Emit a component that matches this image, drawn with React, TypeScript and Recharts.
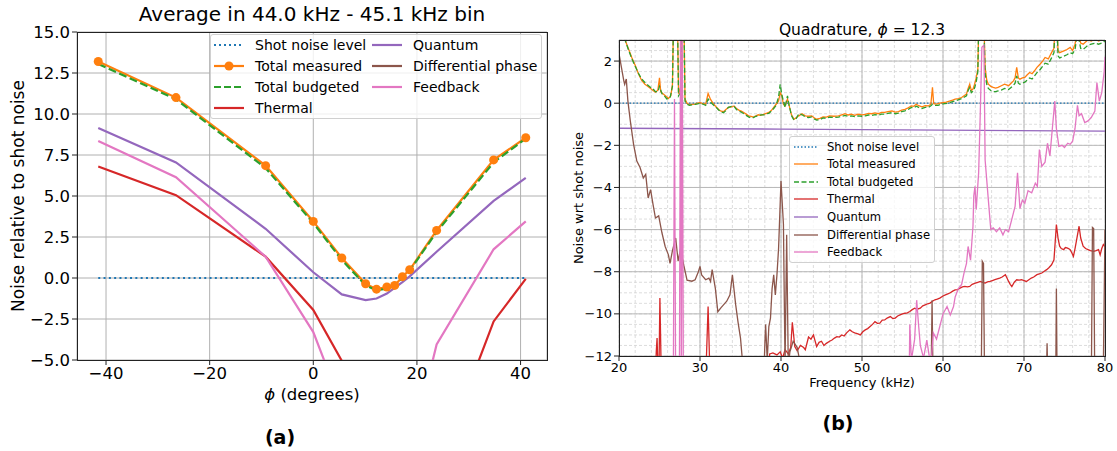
import { CartesianGrid, Line, LineChart, XAxis, YAxis } from "recharts";

const FONT = "'DejaVu Sans', Verdana, sans-serif";
const C = {
  blue: "#1f77b4",
  orange: "#ff7f0e",
  green: "#2ca02c",
  red: "#d62728",
  purple: "#9467bd",
  brown: "#8c564b",
  pink: "#e377c2",
};

// (a) noise averaged over the 44.0-45.1 kHz bin, one point per quadrature angle
const phiDeg = [-41.5, -26.5, -9.2, 0, 5.5, 10.1, 12.2, 14.2, 15.7, 17.2, 18.6, 23.8, 34.8, 41.0];
const binShot = [0, 0, 0, 0, 0, 0, 0, 0, 0, 0, 0, 0, 0, 0];
const binMeasured = [13.2, 11.0, 6.85, 3.45, 1.22, -0.35, -0.68, -0.55, -0.45, 0.08, 0.5, 2.9, 7.2, 8.55];
const binBudgeted = [13.05, 10.9, 6.7, 3.35, 1.1, -0.45, -0.75, -0.65, -0.5, 0.0, 0.45, 2.8, 7.05, 8.5];
const binThermal = [6.8, 5.05, 1.3, -1.95, -5.05, -9.0, -10.0, -10.5, -11.0, -11.5, -12.0, -11.8, -2.65, -0.05];
const binQuantum = [9.15, 7.05, 3.0, 0.35, -1.0, -1.35, -1.25, -0.95, -0.6, -0.25, 0.1, 1.6, 4.7, 6.1];
const binDiffPhase = [-14.5, -15.2, -16.8, -18.0, -18.9, -19.5, -19.6, -19.4, -19.2, -18.8, -18.5, -17.2, -15.6, -14.9];
const binFeedback = [8.35, 6.15, 1.3, -3.3, -7.8, -12.0, -13.0, -13.0, -12.5, -11.5, -10.8, -4.05, 1.75, 3.45];

const phiTicks = [-40, -20, 0, 20, 40];
const binTicks = [-5, -2.5, 0, 2.5, 5, 7.5, 10, 12.5, 15];

// (b) spectra at phi = 12.3, [frequency kHz, dB wrt shot noise]
type Pt = [number, number];
const qShot: Pt[] = [[20, 0], [80, 0]];
const qMeasured: Pt[] = [
  [20.0, 4.5], [20.5, 3.25], [20.8, 2.95], [21.2, 2.55], [21.6, 2.15], [22.0, 1.8], [22.4, 1.4], [22.8, 1.08],
  [23.2, 0.9], [23.5, 0.82], [23.9, 0.7], [24.2, 0.6], [24.5, 0.52], [24.8, 0.62], [25.0, 1.2], [25.15, 0.55],
  [25.5, 0.43], [25.8, 0.33], [26.1, 0.22], [26.4, 0.35], [26.6, 0.9], [26.75, 4.5], [27.2, 4.5], [27.35, 0.45],
  [27.6, 0.75], [27.75, 4.5], [28.0, 4.5], [28.15, 0.2], [28.4, 0.0], [28.7, -0.08], [29.0, -0.06], [29.4, -0.04],
  [29.7, 0.0], [30.0, 0.03], [30.4, -0.02], [30.7, -0.05], [31.0, 0.46], [31.3, 0.18], [31.7, -0.05], [32.0, -0.18],
  [32.3, -0.3], [32.6, -0.38], [32.9, -0.4], [33.2, -0.3], [33.5, -0.2], [33.9, -0.18], [34.2, -0.13], [34.5, -0.25],
  [34.8, -0.33], [35.1, -0.38], [35.4, -0.44], [35.7, -0.52], [36.0, -0.6], [36.3, -0.63], [36.6, -0.66], [36.9, -0.6],
  [37.2, -0.55], [37.5, -0.58], [37.9, -0.52], [38.2, -0.48], [38.5, -0.44], [38.8, -0.35], [39.1, -0.2], [39.4, -0.05],
  [39.7, 0.1], [39.9, 0.5], [40.1, 0.35], [40.3, -0.05], [40.5, -0.13], [40.8, 0.2], [41.0, -0.1], [41.3, -0.55],
  [41.6, -0.76], [41.9, -0.68], [42.2, -0.6], [42.6, -0.5], [43.0, -0.6], [43.4, -0.62], [43.8, -0.6], [44.1, -0.7],
  [44.4, -0.76], [44.8, -0.72], [45.2, -0.65], [45.6, -0.66], [46.0, -0.6], [46.5, -0.62], [47.1, -0.6], [47.5, -0.55],
  [47.9, -0.5], [48.3, -0.56], [48.7, -0.52], [49.1, -0.58], [49.5, -0.52], [50.0, -0.55], [50.4, -0.53], [50.8, -0.48],
  [51.2, -0.5], [51.6, -0.46], [52.0, -0.5], [52.4, -0.44], [52.8, -0.44], [53.2, -0.4], [53.7, -0.37], [54.1, -0.42],
  [54.5, -0.4], [54.9, -0.33], [55.3, -0.29], [55.7, -0.22], [56.1, -0.13], [56.4, -0.15], [56.7, -0.05], [57.0, -0.12],
  [57.4, -0.17], [57.8, -0.12], [58.2, -0.13], [58.5, -0.05], [58.7, 0.75], [58.85, -0.02], [59.2, -0.04], [59.6, 0.0],
  [60.0, 0.03], [60.4, 0.05], [60.8, 0.1], [61.2, 0.15], [61.5, 0.19], [61.9, 0.22], [62.3, 0.27], [62.6, 0.35],
  [62.9, 0.43], [63.1, 0.7], [63.3, 0.9], [63.5, 0.6], [63.7, 0.67], [63.9, 0.9], [64.1, 1.2], [64.3, 1.6],
  [64.45, 4.5], [65.0, 4.5], [65.2, 1.7], [65.4, 1.1], [65.6, 0.9], [65.9, 0.8], [66.2, 0.75], [66.5, 0.72],
  [66.8, 0.75], [67.2, 0.83], [67.6, 0.9], [68.1, 0.83], [68.4, 0.95], [68.7, 1.06], [68.9, 1.2], [69.1, 1.7],
  [69.3, 1.2], [69.5, 1.14], [69.8, 1.2], [70.1, 1.22], [70.4, 1.35], [70.7, 1.46], [71.0, 1.4], [71.3, 1.54],
  [71.6, 1.7], [72.0, 1.86], [72.3, 2.0], [72.6, 2.17], [73.0, 2.1], [73.4, 2.4], [73.7, 2.6], [73.85, 4.0],
  [74.05, 4.0], [74.2, 2.5], [74.4, 2.4], [74.7, 2.45], [75.0, 2.5], [75.3, 2.55], [75.7, 2.65], [76.0, 2.5],
  [76.3, 2.8], [76.55, 3.4], [76.8, 3.2], [77.0, 2.85], [77.3, 2.8], [77.6, 2.9], [77.9, 3.0], [78.3, 2.95],
  [78.8, 3.05], [79.2, 2.95], [79.6, 3.0], [80.0, 3.05],
];
const qBudgeted: Pt[] = [
  [20.0, 4.5], [20.5, 3.3], [20.8, 2.95], [21.2, 2.5], [21.6, 2.1], [22.0, 1.75], [22.4, 1.42], [22.8, 1.15],
  [23.2, 0.98], [23.5, 0.88], [23.9, 0.75], [24.2, 0.68], [24.5, 0.55], [24.8, 0.55], [25.0, 0.8], [25.3, 0.45],
  [25.6, 0.35], [25.9, 0.2], [26.3, 0.25], [26.6, 0.8], [26.75, 4.5], [27.2, 4.5], [27.35, 0.35], [27.6, 0.5],
  [27.75, 4.5], [28.0, 4.5], [28.15, 0.1], [28.4, -0.05], [28.7, -0.1], [29.0, -0.08], [29.4, -0.05], [29.7, -0.03],
  [30.0, 0.0], [30.4, -0.05], [30.7, -0.1], [31.0, 0.2], [31.3, 0.05], [31.7, -0.1], [32.0, -0.2], [32.3, -0.32],
  [32.6, -0.42], [32.9, -0.45], [33.2, -0.35], [33.5, -0.2], [33.9, -0.15], [34.2, -0.15], [34.5, -0.3], [34.8, -0.38],
  [35.1, -0.42], [35.4, -0.5], [35.7, -0.58], [36.0, -0.65], [36.3, -0.7], [36.6, -0.68], [36.9, -0.62], [37.2, -0.6],
  [37.5, -0.55], [37.9, -0.55], [38.2, -0.5], [38.5, -0.48], [38.8, -0.38], [39.1, -0.25], [39.4, -0.1], [39.7, 0.3],
  [39.9, 0.9], [40.1, 0.4], [40.3, 0.1], [40.5, -0.2], [40.8, 0.35], [41.0, -0.1], [41.3, -0.6], [41.6, -0.8],
  [41.9, -0.72], [42.2, -0.5], [42.6, -0.55], [43.0, -0.65], [43.4, -0.68], [43.8, -0.65], [44.1, -0.75], [44.4, -0.8],
  [44.8, -0.78], [45.2, -0.7], [45.6, -0.72], [46.0, -0.66], [46.5, -0.68], [47.1, -0.66], [47.5, -0.62], [47.9, -0.58],
  [48.3, -0.62], [48.7, -0.6], [49.1, -0.64], [49.5, -0.6], [50.0, -0.62], [50.4, -0.6], [50.8, -0.56], [51.2, -0.58],
  [51.6, -0.54], [52.0, -0.57], [52.4, -0.52], [52.8, -0.52], [53.2, -0.48], [53.7, -0.45], [54.1, -0.5], [54.5, -0.47],
  [54.9, -0.4], [55.3, -0.36], [55.7, -0.3], [56.1, -0.2], [56.4, -0.22], [56.7, -0.14], [57.0, -0.2], [57.4, -0.25],
  [57.8, -0.2], [58.2, -0.2], [58.5, -0.12], [58.7, -0.05], [59.0, -0.1], [59.4, -0.1], [59.8, -0.05], [60.2, -0.02],
  [60.6, 0.0], [61.0, 0.05], [61.4, 0.1], [61.8, 0.15], [62.2, 0.2], [62.6, 0.28], [62.9, 0.35], [63.1, 0.6],
  [63.3, 0.75], [63.5, 0.5], [63.8, 0.6], [64.1, 1.0], [64.3, 1.5], [64.45, 4.5], [65.0, 4.5], [65.2, 1.4],
  [65.4, 0.9], [65.6, 0.7], [65.9, 0.6], [66.2, 0.55], [66.5, 0.55], [66.8, 0.58], [67.2, 0.62], [67.6, 0.7],
  [68.1, 0.65], [68.4, 0.75], [68.7, 0.85], [68.9, 0.95], [69.1, 1.3], [69.3, 0.95], [69.5, 0.9], [69.8, 0.95],
  [70.1, 1.0], [70.4, 1.1], [70.7, 1.2], [71.0, 1.15], [71.3, 1.3], [71.6, 1.45], [72.0, 1.6], [72.3, 1.75],
  [72.6, 1.9], [73.0, 1.85], [73.4, 2.15], [73.7, 2.4], [73.85, 4.0], [74.05, 4.0], [74.2, 2.25], [74.4, 2.15],
  [74.7, 2.2], [75.0, 2.25], [75.3, 2.3], [75.7, 2.4], [76.0, 2.35], [76.3, 2.55], [76.55, 3.2], [76.8, 3.0],
  [77.0, 2.6], [77.3, 2.55], [77.6, 2.65], [77.9, 2.75], [78.3, 2.8], [78.8, 2.85], [79.2, 2.8], [79.6, 2.85],
  [80.0, 2.95],
];
const qThermal: Pt[] = [
  [24.4, -14], [24.6, -11.8], [24.7, -11.15], [24.8, -12.5], [24.95, -12.3], [25.05, -9.25], [25.2, -12.5], [25.4, -14],
  [30.6, -14], [30.8, -12], [31.0, -9.65], [31.2, -12.5], [31.4, -14], [38.3, -14], [38.6, -11.9], [39.0, -11.85],
  [39.5, -11.95], [39.9, -11.8], [40.2, -12.1], [40.5, -11.7], [40.9, -11.9], [41.2, -11.6], [41.4, -10.4], [41.7, -11.55],
  [42.0, -11.75], [42.4, -11.5], [42.8, -11.6], [43.0, -11.7], [43.4, -11.1], [43.7, -11.2], [44.0, -11.0], [44.4, -11.55],
  [44.7, -11.35], [45.0, -11.3], [45.3, -11.5], [45.6, -11.4], [46.0, -11.3], [46.3, -11.24], [46.6, -11.15], [46.9, -11.08],
  [47.2, -11.1], [47.5, -11.0], [47.8, -11.05], [48.1, -10.9], [48.5, -10.76], [48.8, -10.85], [49.1, -10.9], [49.5, -10.95],
  [49.8, -11.0], [50.1, -10.85], [50.4, -10.76], [50.7, -10.7], [51.0, -10.6], [51.3, -10.5], [51.6, -10.37], [51.9, -10.45],
  [52.2, -10.44], [52.5, -10.3], [52.8, -10.29], [53.1, -10.2], [53.5, -10.13], [53.8, -10.22], [54.1, -10.2], [54.4, -10.1],
  [54.7, -10.05], [55.0, -10.0], [55.3, -9.97], [55.6, -9.95], [55.9, -9.89], [56.2, -9.8], [56.5, -9.73], [56.8, -9.78],
  [57.2, -9.73], [57.5, -9.62], [57.8, -9.57], [58.1, -9.52], [58.4, -9.49], [58.7, -9.4], [59.0, -9.33], [59.3, -9.3],
  [59.6, -9.25], [60.0, -9.15], [60.3, -9.1], [60.6, -9.05], [60.9, -9.0], [61.2, -8.92], [61.5, -8.86], [61.8, -8.85],
  [62.1, -8.78], [62.4, -8.72], [62.7, -8.7], [63.0, -8.72], [63.3, -8.7], [63.6, -8.6], [64.0, -8.54], [64.3, -8.5],
  [64.6, -8.46], [64.9, -8.5], [65.2, -8.54], [65.5, -8.48], [65.8, -8.46], [66.1, -8.42], [66.4, -8.38], [66.7, -8.34],
  [67.0, -8.3], [67.3, -8.25], [67.7, -8.14], [67.9, -8.3], [68.1, -8.46], [68.3, -8.6], [68.5, -8.7], [68.8, -8.5],
  [69.1, -8.38], [69.4, -8.4], [69.7, -8.38], [70.0, -8.42], [70.3, -8.46], [70.6, -8.38], [70.9, -8.3], [71.2, -8.25],
  [71.6, -8.14], [71.9, -8.1], [72.2, -8.06], [72.5, -7.98], [72.8, -7.9], [73.1, -7.8], [73.4, -7.67], [73.7, -7.43],
  [73.85, -6.6], [74.0, -5.76], [74.2, -6.4], [74.4, -6.79], [74.6, -6.9], [74.9, -6.95], [75.1, -6.85], [75.3, -6.87],
  [75.5, -6.9], [75.7, -6.95], [75.9, -7.1], [76.1, -7.27], [76.3, -6.9], [76.5, -6.48], [76.8, -5.84], [77.0, -6.4],
  [77.3, -6.79], [77.6, -6.9], [77.9, -6.95], [78.2, -7.0], [78.6, -7.03], [78.9, -7.0], [79.2, -6.95], [79.4, -7.2],
  [79.6, -6.9], [79.8, -6.71], [80.0, -6.8],
];
const qQuantum: Pt[] = [[20, -1.19], [40, -1.23], [60, -1.28], [80, -1.33]];
const qDiffPhase: Pt[] = [
  [20.0, 2.35], [20.3, 1.7], [20.6, 1.05], [20.7, 0.9], [20.9, 1.15], [21.1, 0.1], [21.4, -0.85], [21.8, -1.95],
  [22.2, -2.75], [22.6, -3.05], [23.0, -3.55], [23.3, -3.38], [23.6, -4.5], [23.9, -4.1], [24.2, -4.8], [24.5, -5.45],
  [24.9, -5.35], [25.3, -6.15], [25.7, -6.8], [26.1, -7.2], [26.3, -7.6], [26.6, -7.0], [27.0, -6.4], [27.3, -7.5],
  [27.6, -6.9], [28.0, -7.7], [28.4, -8.4], [29.0, -8.45], [29.4, -8.38], [29.8, -8.0], [30.0, -7.75], [30.2, -8.15],
  [30.7, -8.38], [31.1, -8.3], [31.3, -8.46], [31.5, -7.9], [31.9, -8.8], [32.2, -9.9], [32.6, -9.7], [32.9, -9.57],
  [33.3, -9.4], [33.7, -9.1], [34.0, -8.15], [34.4, -9.55], [34.7, -10.4], [35.0, -11.15], [35.3, -12.5], [35.6, -14],
  [37.8, -14], [38.0, -11.5], [38.1, -10.5], [38.3, -12.2], [38.5, -10.6], [38.7, -10.2], [38.9, -8.8], [39.1, -8.15],
  [39.3, -9.1], [39.5, -8.15], [39.7, -6.9], [40.0, -3.7], [40.3, -5.75], [40.5, -12.5], [40.7, -6.25], [40.9, -12.5],
  [41.1, -11.8], [41.5, -11.3], [42.0, -11.6], [42.4, -12.4], [42.7, -14], [58.5, -14], [58.65, -9.35], [58.8, -14],
  [64.7, -14], [64.85, -7.5], [65.0, -7.6], [65.15, -14], [72.7, -14], [72.85, -11.4], [73.0, -14], [73.9, -14],
  [74.0, -8.8], [74.1, -14], [78.3, -14], [78.45, -5.9], [78.6, -5.95], [78.75, -14], [79.75, -14], [80.0, -6.0],
];
const qFeedback: Pt[] = [
  [26.7, -14], [26.85, 0.2], [27.0, -14], [27.45, -14], [27.6, 4.5], [27.7, -14], [27.8, 4.5], [27.95, -14],
  [55.8, -14], [55.9, -10.5], [56.1, -12.2], [56.5, -11.2], [56.75, -9.35], [57.0, -10.6], [57.2, -11.5], [57.6, -12.1],
  [58.0, -11.25], [58.5, -12.5], [58.8, -10.9], [59.2, -11.2], [59.6, -10.6], [60.0, -10.0], [60.5, -9.65], [60.9, -10.05],
  [61.3, -9.65], [61.5, -9.2], [61.9, -8.8], [62.3, -8.6], [62.6, -8.05], [62.9, -7.6], [63.1, -6.8], [63.4, -7.45],
  [63.7, -5.85], [63.8, -4.4], [63.95, -3.95], [64.1, -5.05], [64.4, -3.3], [64.6, -0.5], [64.8, 2.65], [65.05, 2.75],
  [65.2, -2.7], [65.6, -4.6], [65.9, -6.0], [66.2, -5.92], [66.6, -6.1], [67.0, -5.92], [67.4, -6.25], [67.7, -6.0],
  [68.1, -6.1], [68.5, -5.5], [68.9, -4.9], [69.2, -3.3], [69.5, -5.0], [69.8, -4.6], [70.1, -4.75], [70.5, -4.15],
  [70.95, -4.25], [71.4, -3.8], [71.65, -3.95], [71.9, -2.2], [72.2, -3.0], [72.6, -2.8], [72.9, -1.9], [73.2, -2.5],
  [73.5, -1.2], [73.8, 0.1], [74.0, -1.2], [74.3, -2.05], [74.7, -2.0], [75.0, -2.1], [75.4, -1.9], [75.7, -1.95],
  [76.0, -1.8], [76.3, -1.2], [76.6, -0.1], [76.8, -0.6], [77.1, -0.5], [77.5, -0.92], [77.9, -0.84], [78.3, -0.68],
  [78.75, -0.37], [79.0, 0.98], [79.3, 0.1], [79.6, 0.5], [79.9, 1.5], [80.0, 2.2],
];

const freqTicks = [20, 30, 40, 50, 60, 70, 80];
const freqMinor = [20, 22, 24, 26, 28, 30, 32, 34, 36, 38, 40, 42, 44, 46, 48, 50, 52, 54, 56, 58, 60, 62, 64, 66, 68, 70, 72, 74, 76, 78, 80];
const levelTicks = [-12, -10, -8, -6, -4, -2, 0, 2];
const levelMinor = [-12, -11.5, -11, -10.5, -10, -9.5, -9, -8.5, -8, -7.5, -7, -6.5, -6, -5.5, -5, -4.5, -4, -3.5, -3, -2.5, -2, -1.5, -1, -0.5, 0, 0.5, 1, 1.5, 2, 2.5, 3];
const freqDomain: [number, number] = [20, 80];
const levelDomain: [number, number] = [-12, 3];

const binRows = phiDeg.map((p, i) => ({
  phi: p,
  shot: binShot[i],
  measured: binMeasured[i],
  budgeted: binBudgeted[i],
  thermal: binThermal[i],
  quantum: binQuantum[i],
  diff: binDiffPhase[i],
  feedback: binFeedback[i],
}));
const pts = (a: Pt[]) => a.map(([f, v]) => ({ f, v }));

const minus = (s: string) => s.replace("-", "\u2212");
const fmt1 = (v: number) => minus(v.toFixed(1));
const fmt0 = (v: number) => minus(String(v));

type Entry = { name: string; color: string; dash?: string; marker?: boolean };
const legendA: Entry[] = [
  { name: "Shot noise level", color: C.blue, dash: "2 3" },
  { name: "Total measured", color: C.orange, marker: true },
  { name: "Total budgeted", color: C.green, dash: "7 3" },
  { name: "Thermal", color: C.red },
  { name: "Quantum", color: C.purple },
  { name: "Differential phase", color: C.brown },
  { name: "Feedback", color: C.pink },
];
const legendB: Entry[] = [
  { name: "Shot noise level", color: C.blue, dash: "1.5 2" },
  { name: "Total measured", color: C.orange },
  { name: "Total budgeted", color: C.green, dash: "5 2.5" },
  { name: "Thermal", color: C.red },
  { name: "Quantum", color: C.purple },
  { name: "Differential phase", color: C.brown },
  { name: "Feedback", color: C.pink },
];

function Sample({ e, w, sw }: { e: Entry; w: number; sw: number }) {
  return (
    <svg width={w} height={12} style={{ flex: "none" }}>
      <line x1={0} y1={6} x2={w} y2={6} stroke={e.color} strokeWidth={sw} strokeDasharray={e.dash} />
      {e.marker && <circle cx={w / 2} cy={6} r={4.5} fill={e.color} />}
    </svg>
  );
}

function Txt(props: { x: number; y: number; size: number; bold?: boolean; rotate?: boolean; children: any }) {
  const { x, y, size, bold, rotate, children } = props;
  return (
    <div
      style={{
        position: "absolute",
        left: x,
        top: y,
        transform: `translate(-50%, -50%)${rotate ? " rotate(-90deg)" : ""}`,
        fontSize: size,
        fontWeight: bold ? "bold" : "normal",
        whiteSpace: "nowrap",
        lineHeight: 1,
        color: "#000",
      }}
    >
      {children}
    </div>
  );
}

const Phi = () => <span style={{ fontStyle: "italic" }}>ϕ</span>;

const frame = (l: number, t: number, w: number, h: number) => (
  <div
    style={{
      position: "absolute",
      left: l,
      top: t,
      width: w,
      height: h,
      border: "1px solid #222",
      boxSizing: "border-box",
      pointerEvents: "none",
    }}
  />
);

// minor grid: use the axis scale when it is exposed, else map through the plot box
function applyScale(axis: any, v: number): number {
  const s = axis?.scale;
  if (typeof s === "function") return s(v);
  if (s && typeof s.map === "function") return s.map(v);
  return NaN;
}
const minorVertical = ({ xAxis, offset }: any) =>
  freqMinor.map((f) => {
    const p = applyScale(xAxis, f);
    return Number.isFinite(p)
      ? p
      : offset.left + ((f - freqDomain[0]) / (freqDomain[1] - freqDomain[0])) * offset.width;
  });
const minorHorizontal = ({ yAxis, offset }: any) =>
  levelMinor.map((v) => {
    const p = applyScale(yAxis, v);
    return Number.isFinite(p)
      ? p
      : offset.top + ((levelDomain[1] - v) / (levelDomain[1] - levelDomain[0])) * offset.height;
  });

export default function App() {
  const tickA = { fontSize: 16.5, fill: "#000", fontFamily: FONT };
  const tickB = { fontSize: 13, fill: "#000", fontFamily: FONT };
  const lw = 2.2;
  const lwB = 1.3;
  return (
    <div
      style={{
        position: "absolute",
        left: 0,
        top: 0,
        width: 1117,
        height: 451,
        background: "#fff",
        fontFamily: FONT,
        overflow: "hidden",
      }}
    >
      {/* (a) */}
      <div style={{ position: "absolute", left: 0, top: 0 }}>
        <LineChart width={560} height={400} data={binRows} margin={{ top: 32, right: 13, bottom: 10, left: 17 }}>
          <CartesianGrid stroke="#b0b0b0" strokeWidth={1} />
          <XAxis
            dataKey="phi"
            type="number"
            domain={[-45.6, 45.1]}
            ticks={phiTicks}
            interval={0}
            allowDataOverflow
            height={30}
            tickSize={5}
            axisLine={false}
            tickLine={{ stroke: "#222" }}
            tick={tickA}
            tickFormatter={fmt0}
          />
          <YAxis
            type="number"
            domain={[-5, 15]}
            ticks={binTicks}
            interval={0}
            allowDataOverflow
            width={60}
            tickSize={5}
            axisLine={false}
            tickLine={{ stroke: "#222" }}
            tick={tickA}
            tickFormatter={fmt1}
          />
          <Line dataKey="shot" stroke={C.blue} strokeWidth={lw} strokeDasharray="2 3.3" dot={false} isAnimationActive={false} />
          <Line
            dataKey="measured"
            stroke={C.orange}
            strokeWidth={lw}
            dot={{ r: 4.5, fill: C.orange, stroke: C.orange, strokeWidth: 0 }}
            isAnimationActive={false}
          />
          <Line dataKey="budgeted" stroke={C.green} strokeWidth={lw} strokeDasharray="8 3.5" dot={false} isAnimationActive={false} />
          <Line dataKey="thermal" stroke={C.red} strokeWidth={lw} dot={false} isAnimationActive={false} />
          <Line dataKey="quantum" stroke={C.purple} strokeWidth={lw} dot={false} isAnimationActive={false} />
          <Line dataKey="diff" stroke={C.brown} strokeWidth={lw} dot={false} isAnimationActive={false} />
          <Line dataKey="feedback" stroke={C.pink} strokeWidth={lw} dot={false} isAnimationActive={false} />
        </LineChart>
      </div>
      {frame(77, 32, 471, 329)}
      <Txt x={312} y={14} size={20}>Average in 44.0 kHz - 45.1 kHz bin</Txt>
      <Txt x={18} y={196} size={17} rotate>Noise relative to shot noise</Txt>
      <Txt x={312} y={395} size={16.5}>
        <Phi /> (degrees)
      </Txt>
      <Txt x={280} y={437} size={19} bold>(a)</Txt>
      <div
        style={{
          position: "absolute",
          left: 210,
          top: 34,
          width: 332,
          height: 85,
          boxSizing: "border-box",
          border: "1px solid #d0d0d0",
          borderRadius: 3,
          background: "rgba(255,255,255,0.8)",
          display: "grid",
          gridTemplateRows: "repeat(4, 20.8px)",
          gridAutoFlow: "column",
          gridTemplateColumns: "158px 170px",
          padding: "0 0 0 3px",
          fontSize: 14,
          alignContent: "center",
        }}
      >
        {legendA.map((e) => (
          <div key={e.name} style={{ display: "flex", alignItems: "center", gap: 11, whiteSpace: "nowrap" }}>
            <Sample e={e} w={30} sw={lw} />
            <span>{e.name}</span>
          </div>
        ))}
      </div>

      {/* (b) */}
      <div style={{ position: "absolute", left: 570, top: 0 }}>
        <LineChart width={547} height={400} margin={{ top: 40, right: 12, bottom: 19, left: 13 }}>
          <XAxis
            xAxisId="minor"
            dataKey="f"
            type="number"
            domain={freqDomain}
            ticks={freqMinor}
            interval={0}
            allowDataOverflow
            height={1}
            tickSize={3}
            tick={false}
            axisLine={false}
            tickLine={{ stroke: "#222" }}
          />
          <YAxis
            yAxisId="minor"
            type="number"
            domain={levelDomain}
            ticks={levelMinor}
            interval={0}
            allowDataOverflow
            width={1}
            tickSize={3}
            tick={false}
            axisLine={false}
            tickLine={{ stroke: "#222" }}
          />
          <XAxis
            dataKey="f"
            type="number"
            domain={freqDomain}
            ticks={freqTicks}
            interval={0}
            allowDataOverflow
            height={24}
            tickSize={5}
            axisLine={false}
            tickLine={{ stroke: "#222" }}
            tick={tickB}
            tickFormatter={fmt0}
          />
          <YAxis
            type="number"
            domain={levelDomain}
            ticks={levelTicks}
            interval={0}
            allowDataOverflow
            width={35}
            tickSize={5}
            axisLine={false}
            tickLine={{ stroke: "#222" }}
            tick={tickB}
            tickFormatter={fmt0}
          />
          <CartesianGrid
            stroke="#d4d4d4"
            strokeDasharray="3 2"
            strokeWidth={0.8}
            verticalCoordinatesGenerator={minorVertical}
            horizontalCoordinatesGenerator={minorHorizontal}
          />
          <CartesianGrid stroke="#b8b8b8" strokeWidth={1} />
          <Line data={pts(qShot)} dataKey="v" stroke={C.blue} strokeWidth={lwB} strokeDasharray="1.5 2" dot={false} isAnimationActive={false} />
          <Line data={pts(qMeasured)} dataKey="v" stroke={C.orange} strokeWidth={lwB} dot={false} isAnimationActive={false} />
          <Line data={pts(qBudgeted)} dataKey="v" stroke={C.green} strokeWidth={lwB} strokeDasharray="5 2.5" dot={false} isAnimationActive={false} />
          <Line data={pts(qThermal)} dataKey="v" stroke={C.red} strokeWidth={lwB} dot={false} isAnimationActive={false} />
          <Line data={pts(qQuantum)} dataKey="v" stroke={C.purple} strokeWidth={lwB} dot={false} isAnimationActive={false} />
          <Line data={pts(qDiffPhase)} dataKey="v" stroke={C.brown} strokeWidth={lwB} dot={false} isAnimationActive={false} />
          <Line data={pts(qFeedback)} dataKey="v" stroke={C.pink} strokeWidth={lwB} dot={false} isAnimationActive={false} />
        </LineChart>
      </div>
      {frame(619, 40, 487, 317)}
      <Txt x={862} y={31} size={15.5}>
        Quadrature, <Phi /> = 12.3
      </Txt>
      <Txt x={578} y={198} size={13} rotate>Noise wrt shot noise</Txt>
      <Txt x={862} y={382} size={13}>Frequency (kHz)</Txt>
      <Txt x={838} y={423} size={19} bold>(b)</Txt>
      <div
        style={{
          position: "absolute",
          left: 789,
          top: 136,
          width: 146,
          height: 127,
          boxSizing: "border-box",
          border: "1px solid #d0d0d0",
          borderRadius: 3,
          background: "rgba(255,255,255,0.8)",
          display: "grid",
          gridTemplateRows: "repeat(7, 17.55px)",
          alignContent: "center",
          padding: "0 0 0 4px",
          fontSize: 11.6,
        }}
      >
        {legendB.map((e) => (
          <div key={e.name} style={{ display: "flex", alignItems: "center", gap: 9, whiteSpace: "nowrap" }}>
            <Sample e={e} w={24} sw={lwB} />
            <span>{e.name}</span>
          </div>
        ))}
      </div>
    </div>
  );
}
